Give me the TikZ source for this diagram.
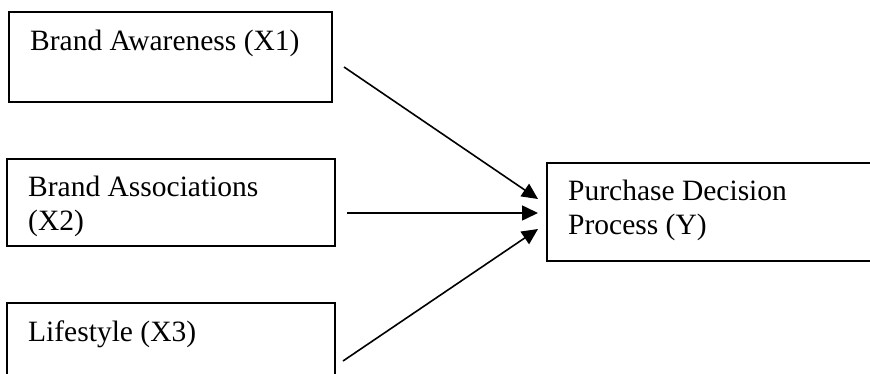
\documentclass[tikz,border=0pt]{standalone}
\usepackage{fontspec}
\setmainfont{Liberation Serif}
\usetikzlibrary{arrows.meta}
\begin{document}
\begin{tikzpicture}[x=1pt,y=-1pt,
  boxline/.style={draw=black,line width=1.7pt},
  lbl/.style={anchor=base west,inner sep=0pt,font=\fontsize{29.5}{33}\selectfont},
  conn/.style={line width=1.6pt,-{Triangle[length=16pt,width=15pt]}}]
\fill[white] (0,0) rectangle (870,374);
\useasboundingbox (0,0) rectangle (870,374);
\clip (0,0) rectangle (870,374);
% boxes
\draw[boxline] (9,12) rectangle (332,102);
\draw[boxline] (7,159) rectangle (335,246);
\draw[boxline] (7,303) rectangle (335,380);
\draw[boxline] (547,163) rectangle (880,261);
% texts
\node[lbl] (x1) at (30,51) {Brand Awareness (X1)};
\node[lbl] (x2a) at (28,197) {Brand Associations};
\node[lbl] (x2b) at (28,231) {(X2)};
\node[lbl] (x3) at (28,341) {Lifestyle (X3)};
\node[lbl] (ya) at (568,201) {Purchase Decision};
\node[lbl] (yb) at (568,234) {Process (Y)};
% connectors
\coordinate (s1) at (344,67);
\coordinate (s2) at (347,213);
\coordinate (s3) at (343,361);
\coordinate (e1) at (538,199);
\coordinate (e2) at (538,213);
\coordinate (e3) at (538,229);
\draw[conn] (s1) -- (e1);
\draw[conn] (s2) -- (e2);
\draw[conn] (s3) -- (e3);
\end{tikzpicture}
\end{document}
